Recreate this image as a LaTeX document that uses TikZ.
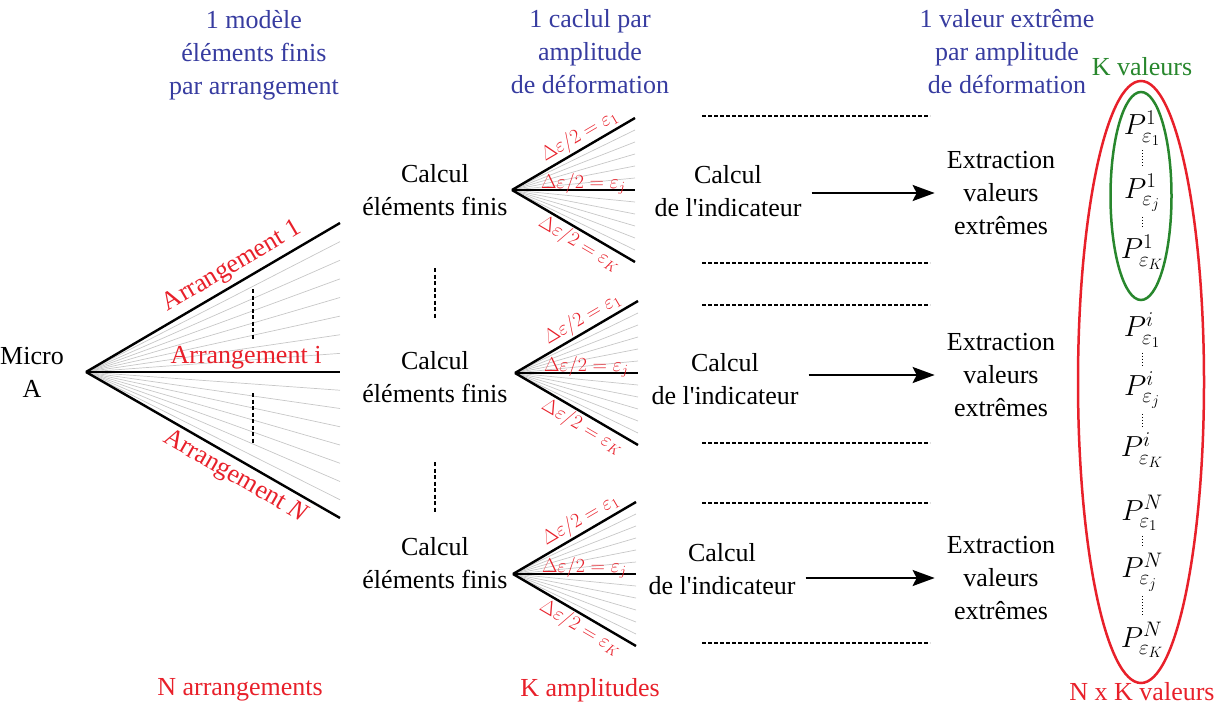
\RequirePackage{fix-cm}
\documentclass[tikz,border=0pt]{standalone}
\usepackage{fontspec}
\setmainfont{Liberation Serif}
\usetikzlibrary{arrows.meta}
\DeclareMathSizes{29}{29}{21}{15}
\DeclareMathSizes{20}{20}{14}{10}
\definecolor{bleu}{RGB}{55,60,160}
\definecolor{rouge}{RGB}{232,32,42}
\definecolor{vert}{RGB}{40,135,45}
\begin{document}
\begin{tikzpicture}[x=1pt,y=-1pt,
  txt/.style={align=center,font=\fontsize{26}{33}\selectfont,inner sep=0pt},
  lab/.style={txt,text=rouge,sloped,inner sep=4pt},
  fort/.style={line width=2.4pt},
  fin/.style={black!22,line width=0.7pt},
  eps/.style={text=rouge,font=\fontsize{20}{24}\selectfont,sloped,inner sep=1.5pt},
  tirets/.style={dash pattern=on 4pt off 2.5pt,line width=1.8pt},
  fleche/.style={line width=2pt,-{Stealth[length=22pt,width=16pt,inset=4pt]}},
  pts/.style={dotted,line width=1pt},
  pmath/.style={font=\fontsize{29}{34}\selectfont,inner sep=0pt}]
\useasboundingbox (0,0) rectangle (1226,706);
% titres
\node[txt,text=bleu] (t1) at (254,55) {1 modèle\\éléments finis\\par arrangement};
\node[txt,text=bleu] (t2) at (590,52) {1 caclul par\\amplitude\\de déformation};
\node[txt,text=bleu] (t3) at (1007,52) {1 valeur extrême\\par amplitude\\de déformation};
\node[txt,text=vert] (kval) at (1142,67) {K valeurs};
\node[txt,text=rouge] (narr) at (240,690) {N arrangements};
\node[txt,text=rouge] (kamp) at (590,690) {K amplitudes};
\node[txt,text=rouge] (nkval) at (1142,692) {N x K valeurs};
% micro A
\node[txt] (micro) at (32,372) {Micro\\A};
\coordinate (o) at (86,372);
\foreach \k in {1,...,7}
  {\draw[fin] (o) -- (340,{223+\k*149/8});
   \draw[fin] (o) -- (340,{372+\k*146/8});};
\draw[fort] (o) -- (340,223) coordinate (a1) node[pos=0.61,above,lab] {Arrangement 1};
\draw[fort] (o) -- (340,372) coordinate (ai) node[pos=0.63,above,lab,inner sep=2pt] {Arrangement i};
\draw[fort] (o) -- (340,518) coordinate (aN) node[pos=0.62,below,lab] {Arrangement \textit{N}};
\draw[tirets] (253,289) -- (253,339);
\draw[tirets] (253,393) -- (253,444);
% calculs EF
\foreach \n/\y in {1/190,2/377,3/563}
  \node[txt] (ef\n) at (435,\y) {Calcul\\éléments finis};
\draw[tirets] (435,268) -- (435,318);
\draw[tirets] (435,462) -- (435,512);
% amplitudes
\foreach \n/\x/\y in {1/512/190,2/515/373,3/513/574}
  {\coordinate (s\n) at (\x,\y);
   \foreach \k in {1,...,5}
     {\draw[fin] (s\n) -- ++(123,{-72+\k*12});
      \draw[fin] (s\n) -- ++(123,{\k*12});};
   \draw[fort] (s\n) -- ++(123,-72) node[pos=0.6,above,eps] {$\Delta\varepsilon/2=\varepsilon_1$};
   \draw[fort] (s\n) -- ++(123,0) node[pos=0.58,anchor=base,yshift=2pt,eps] {$\Delta\varepsilon/2=\varepsilon_j$};
   \draw[fort] (s\n) -- ++(123,72) node[pos=0.6,below,eps] {$\Delta\varepsilon/2=\varepsilon_K$};};
% indicateur -> extraction
\foreach \n/\yi/\ye in {1/191/193,2/379/375,3/569/578}
  {\node[txt] (ind\n) at (728-\n*3+3,\yi) {Calcul\\de l\textquotesingle indicateur};
   \node[txt] (ext\n) at (1001,\ye) {Extraction\\valeurs\\extrêmes};
   \draw[fleche,shorten <=10pt,shorten >=12pt] (ind\n.east |- ext\n) -- (ext\n.west);};
\foreach \y in {116,263,305,443,503,643}
  \draw[dash pattern=on 4pt off 2pt,line width=1.1pt] (702,\y) -- (930,\y);
% valeurs extremes
\foreach \gr/\e/\y in {1/1/128,1/j/193,1/K/252,i/1/330,i/j/390,i/K/450,N/1/513,N/j/572,N/K/640}
  \node[pmath] (p\gr\e) at (1142,\y) {$P^{\gr}_{\varepsilon_{\e}}$};
\foreach \gr in {1,i,N}
  {\draw[pts,shorten <=5pt,shorten >=6pt] (p\gr1) -- (p\gr j);
   \draw[pts,shorten <=5pt,shorten >=6pt] (p\gr j) -- (p\gr K);};
\draw[vert,line width=2.5pt] (1141,196) ellipse [x radius=30.5,y radius=104];
\draw[rouge,line width=2.5pt] (1141,382) ellipse [x radius=63,y radius=301];
\end{tikzpicture}
\end{document}
